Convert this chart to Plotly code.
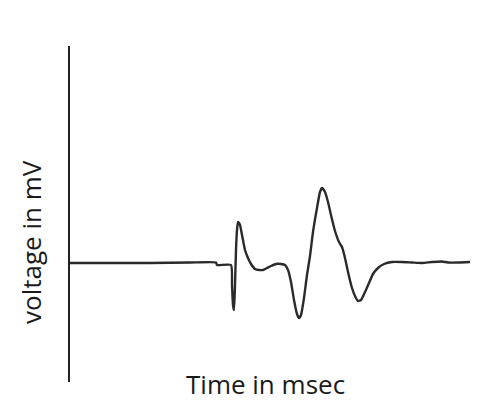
import plotly.graph_objects as go

# Waveform samples (time in ms, voltage in mV, arbitrary units)
time_ms = [0.0, 7.5, 20.0, 30.0, 36.5, 36.75, 40.25, 40.5, 40.75, 41.0, 41.25, 41.5, 41.75,
           42.0, 42.5, 43.0, 43.75, 44.5, 45.25, 46.25, 47.25, 48.25, 49.25, 50.25, 51.5,
           52.75, 53.75, 54.5, 55.25, 56.0, 56.75, 57.25, 57.75, 58.5, 59.25, 60.0, 60.75,
           61.75, 62.5, 63.0, 63.75, 64.5, 65.25, 66.25, 67.25, 68.0, 68.75, 69.5, 70.5,
           71.25, 72.0, 72.75, 73.75, 74.75, 75.75, 77.0, 78.5, 80.5, 83.0, 85.5, 88.0,
           90.5, 93.0, 94.5, 97.0, 100.0]
voltage_mv = [0.0, 0.0, 0.0, 0.05, 0.05, -0.2, -0.2, -2.2, -4.2, -4.7, -2.2, 1.3, 3.3,
              4.1, 3.8, 2.8, 1.3, 0.5, -0.1, -0.6, -0.7, -0.7, -0.5, -0.3, -0.1,
              -0.1, -0.2, -0.7, -1.9, -3.7, -5.1, -5.5, -5.2, -3.5, -1.2, 0.7, 3.1,
              5.5, 7.1, 7.5, 7.1, 6.1, 4.8, 3.2, 2.1, 1.6, 0.5, -0.9, -2.5,
              -3.3, -3.8, -3.7, -2.9, -2.0, -1.1, -0.5, -0.1, 0.1, 0.1, 0.05, 0.0,
              0.1, 0.15, 0.05, 0.05, 0.1]

x_title = "Time in msec"
y_title = "voltage in mV"

W, H = 485, 403
L, R, T, B = 70, 10, 46, 21
PW, PH = W - L - R, H - T - B


def px_x(px):
    return (px - L) / PW


def px_y(py):
    return (H - B - py) / PH


fig = go.Figure()
fig.add_trace(go.Scatter(x=time_ms, y=voltage_mv, mode="lines",
                         line=dict(color="#2a2a2a", width=2.4, shape="spline", smoothing=0.5),
                         hoverinfo="skip", showlegend=False))

fig.update_layout(
    width=W, height=H,
    margin=dict(l=L, r=R, t=T, b=B, pad=0),
    paper_bgcolor="white", plot_bgcolor="white",
    xaxis=dict(range=[0, PW / 4], visible=False, fixedrange=True),
    yaxis=dict(range=[-11.9, 21.7], showline=True, linecolor="#222222", linewidth=2,
               showgrid=False, zeroline=False, showticklabels=False, ticks="",
               fixedrange=True),
    annotations=[
        dict(text=y_title, xref="paper", yref="paper", x=px_x(31), y=px_y(242),
             xanchor="center", yanchor="middle", textangle=-90, showarrow=False,
             font=dict(family="Open Sans", size=26, color="#1a1a1a")),
        dict(text=x_title, xref="paper", yref="paper", x=px_x(265), y=px_y(384),
             xanchor="center", yanchor="middle", showarrow=False,
             font=dict(family="Open Sans", size=26, color="#1a1a1a")),
    ],
)

fig.write_html("out.html")
